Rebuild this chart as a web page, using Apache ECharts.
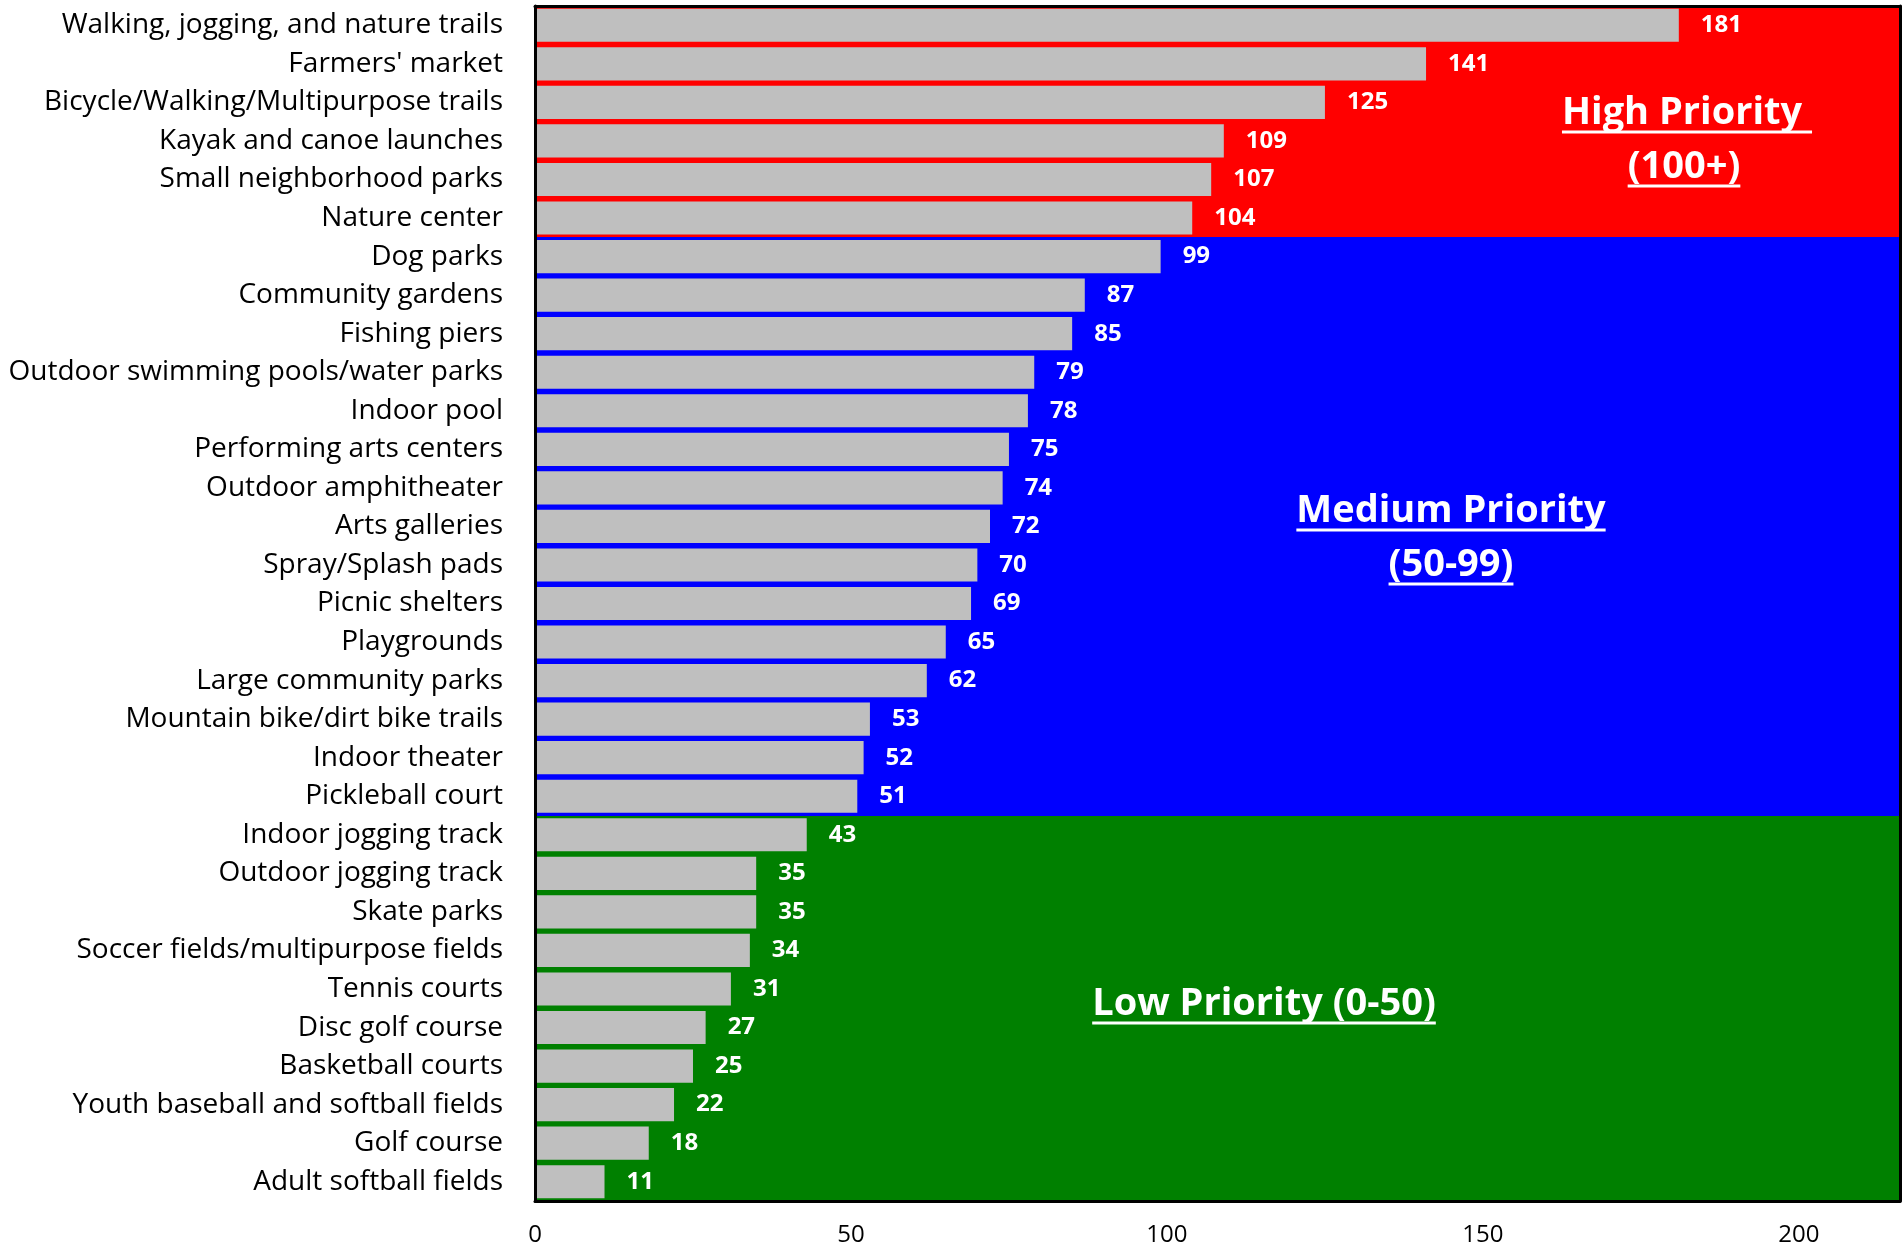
<!DOCTYPE html>
<html><head><meta charset="utf-8">
<script src="https://cdn.jsdelivr.net/npm/echarts@6/dist/echarts.min.js"></script>
<style>html,body{margin:0;padding:0;background:#fff}#c{width:1902px;height:1252px}</style>
</head><body><div id="c"></div>
<script>
const categories = [
  "Walking, jogging, and nature trails","Farmers' market","Bicycle/Walking/Multipurpose trails",
  "Kayak and canoe launches","Small neighborhood parks","Nature center","Dog parks",
  "Community gardens","Fishing piers","Outdoor swimming pools/water parks","Indoor pool",
  "Performing arts centers","Outdoor amphitheater","Arts galleries","Spray/Splash pads",
  "Picnic shelters","Playgrounds","Large community parks","Mountain bike/dirt bike trails",
  "Indoor theater","Pickleball court","Indoor jogging track","Outdoor jogging track",
  "Skate parks","Soccer fields/multipurpose fields","Tennis courts","Disc golf course",
  "Basketball courts","Youth baseball and softball fields","Golf course","Adult softball fields"
];
const values = [181,141,125,109,107,104,99,87,85,79,78,75,74,72,70,69,65,62,53,52,51,43,35,35,34,31,27,25,22,18,11];
const xTicks = [0,50,100,150,200];
const tierThresholds = [100, 50];          // high >= 100, medium >= 50, low otherwise
const tierColors = ['#FF0000','#0000FF','#008000'];
const tierTitles = [["High Priority ","(100+)"],["Medium Priority","(50-99)"],["Low Priority (0-50)"]];

const FONT = 'Open Sans';
const AXIS_MAX = 216;
const GRID = {left:535, right:2, top:6, bottom:51};

function tierOf(v){ return v >= tierThresholds[0] ? 0 : (v >= tierThresholds[1] ? 1 : 2); }

const bandData = values.map((v, i) => [i, tierOf(v)]);

const chart = echarts.init(document.getElementById('c'), null, {renderer:'canvas'});
const option = {
  animation: false,
  backgroundColor: '#fff',
  grid: {left:GRID.left, right:GRID.right, top:GRID.top, bottom:GRID.bottom, containLabel:false},
  xAxis: [{
    type:'value', min:0, max:AXIS_MAX, interval:50, z:10,
    axisLine:{show:true, onZero:false, lineStyle:{color:'#000', width:3}},
    axisTick:{show:false}, splitLine:{show:false},
    axisLabel:{fontFamily:FONT, fontSize:24, color:'#000', margin:22, showMaxLabel:false,
      formatter: v => xTicks.includes(v) ? String(v) : ''}
  },{
    type:'value', min:0, max:AXIS_MAX, position:'top', z:10,
    axisLine:{show:true, onZero:false, lineStyle:{color:'#000', width:3}},
    axisTick:{show:false}, splitLine:{show:false}, axisLabel:{show:false}
  }],
  yAxis: [{
    type:'category', data:categories, inverse:true, z:10,
    axisLine:{show:true, onZero:false, lineStyle:{color:'#000', width:3}},
    axisTick:{show:false}, splitLine:{show:false},
    axisLabel:{fontFamily:FONT, fontSize:28, color:'#000', margin:32, padding:[6,0,0,0]}
  },{
    type:'category', data:categories, inverse:true, position:'right', z:10,
    axisLine:{show:true, onZero:false, lineStyle:{color:'#000', width:3}},
    axisTick:{show:false}, splitLine:{show:false}, axisLabel:{show:false}
  }],
  series: [{
    type:'custom', name:'band', xAxisIndex:0, yAxisIndex:1, data:bandData,
    encode:{y:0}, silent:true, z:1, clip:false,
    renderItem: function(params, api){
      const i = api.value(0);
      const c0 = api.coord([0, i]);
      const c1 = api.coord([AXIS_MAX, i]);
      const h = api.size([0, 1])[1];
      const y0 = Math.round(c0[1] - h/2), y1 = Math.round(c0[1] + h/2);
      const x0 = Math.round(c0[0]), x1 = Math.round(c1[0]);
      return {type:'rect', shape:{x:x0, y:y0, width:x1 - x0, height:y1 - y0},
        style:{fill: tierColors[api.value(1)]}};
    }
  },{
    type:'bar', name:'score', xAxisIndex:0, yAxisIndex:0, data:values,
    barCategoryGap:'14%', z:3,
    itemStyle:{color:'#BFBFBF'},
    label:{show:true, position:'right', distance:22, color:'#fff', fontFamily:FONT,
      fontWeight:'bold', fontSize:24, padding:[5,0,0,0]}
  }]
};
chart.setOption(option);

// annotations (layout: pixel centres of each title line)
const annot = [
  {tier:0, lines:[{x:1687,y:113},{x:1684,y:167}]},
  {tier:1, lines:[{x:1451,y:511},{x:1451,y:565}]},
  {tier:2, lines:[{x:1264,y:1004}]}
];
const ANN_SIZE = 38;
const mctx = document.createElement('canvas').getContext('2d');
mctx.font = 'bold ' + ANN_SIZE + 'px "' + FONT + '"';
const graphics = [];
annot.forEach(a => {
  a.lines.forEach((p, i) => {
    const txt = tierTitles[a.tier][i];
    const w = mctx.measureText(txt).width;
    graphics.push({type:'text', x:p.x, y:p.y, z:20,
      style:{text:txt, fill:'#fff', fontFamily:FONT, fontWeight:'bold', fontSize:ANN_SIZE,
        textAlign:'center', textVerticalAlign:'middle'}});
    graphics.push({type:'rect', z:20, shape:{x:p.x - w/2, y:p.y + ANN_SIZE*0.46, width:w, height:3},
      style:{fill:'#fff'}});
  });
});
chart.setOption({graphic: graphics});
</script></body></html>
